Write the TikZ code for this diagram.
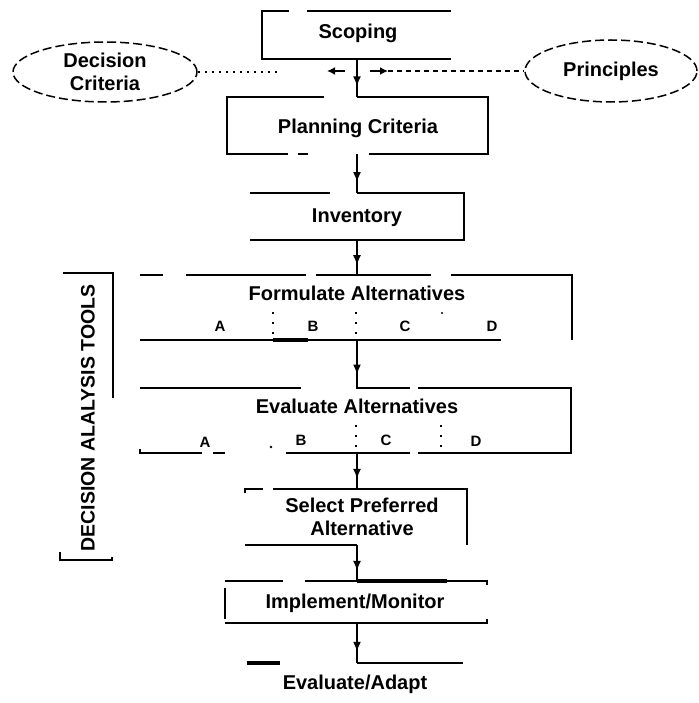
\documentclass[tikz,border=0pt]{standalone}
\usepackage{fontspec}
\setmainfont{Liberation Sans}
\usetikzlibrary{shapes.geometric,arrows.meta,decorations.markings}
\begin{document}
\begin{tikzpicture}[x=1pt,y=-1pt,
  ln/.style={line width=1.8pt},
  heavy/.style={line width=3.2pt},
  lbl/.style={font=\bfseries\fontsize{20}{23}\selectfont, inner sep=0pt, align=center},
  sml/.style={font=\bfseries\fontsize{15}{17}\selectfont, inner sep=0pt},
  boxn/.style={rectangle, inner sep=0pt, outer sep=0pt},
  ell/.style={ellipse, draw, line width=1.5pt, dash pattern=on 9pt off 4pt, inner sep=0pt, align=center, font=\bfseries\fontsize{20}{23}\selectfont},
  dotsep/.style={line width=2.2pt, dash pattern=on 2pt off 8pt},
  flow/.style={ln, postaction={decorate}, decoration={markings, mark=at position 0.72 with {\arrow{Latex[length=10pt,width=8pt]}}}},
  tip/.style={ln, -{Latex[length=8pt,width=8pt]}}
]
\useasboundingbox (0,0) rectangle (698,703);
\fill[white] (0,0) rectangle (698,703);

% invisible box nodes (used as connector ends)
\node[boxn, minimum width=189pt, minimum height=48pt] (scoping) at (357,35) {};
\node[boxn, minimum width=261pt, minimum height=57pt] (planning) at (357,125.5) {};
\node[boxn, minimum width=214pt, minimum height=47pt] (inventory) at (357,216.5) {};
\node[boxn, minimum width=432pt, minimum height=65pt] (formulate) at (357,307.5) {};
\node[boxn, minimum width=431pt, minimum height=65pt] (evaluate) at (357,420.5) {};
\node[boxn, minimum width=222pt, minimum height=56pt] (select) at (357,517) {};
\node[boxn, minimum width=262pt, minimum height=42pt] (implement) at (357,602) {};
\coordinate (adapt) at (357,663);

% texts
\node[lbl] (t-scoping) at (358,33) {Scoping};
\node[lbl] (t-planning) at (358,128) {Planning Criteria};
\node[lbl] (t-inventory) at (357,218) {Inventory};
\node[lbl] (t-formulate) at (357,293) {Formulate Alternatives};
\node[lbl] (t-evaluate) at (357,406) {Evaluate Alternatives};
\node[lbl] (t-select) at (362,517) {Select Preferred\\Alternative};
\node[lbl] (t-implement) at (355,603) {Implement/Monitor};
\node[lbl] (t-adapt) at (355,684) {Evaluate/Adapt};
\node[lbl, rotate=90, font=\bfseries\fontsize{19.5}{22}\selectfont] (t-tools) at (88,418) {DECISION ALALYSIS TOOLS};

% ellipses
\node[ell, minimum width=184pt, minimum height=60pt] (dc) at (105,72) {Decision\\Criteria};
\node[ell, minimum width=172pt, minimum height=62pt] (pr) at (611,71) {Principles};

% side links
\coordinate (ldot) at (281,72);
\coordinate (la1) at (345,71);
\coordinate (la2) at (327,71);
\coordinate (ra1) at (370,71);
\coordinate (ra2) at (388,71);
\draw[line width=1.6pt, dash pattern=on 2.5pt off 4.5pt] (dc.east) -- (ldot);
\draw[tip] (la1) -- (la2);
\draw[tip] (ra1) -- (ra2);
\draw[line width=1.6pt, dash pattern=on 5pt off 4pt] (ra2) -- (pr.west);

% frames
% Scoping
\draw[ln] (289,11) -- (262,11) -- (262,59) -- (451,59);
\draw[ln] (307,11) -- (451,11);
% Planning Criteria
\draw[ln] (324,97) -- (227,97) -- (227,154) -- (288,154);
\draw[ln] (298,154) -- (308,154);
\draw[ln] (369,154) -- (488,154) -- (488,97) -- (357,97);
% Inventory
\draw[ln] (250,193) -- (330,193);
\draw[ln] (357,193) -- (464,193) -- (464,240) -- (250,240);
% Formulate Alternatives
\draw[ln] (140,275) -- (163,275);
\draw[ln] (186,275) -- (306,275);
\draw[ln] (316,275) -- (431,275);
\draw[ln] (451,275) -- (572,275) -- (572,340);
\draw[ln] (140,340) -- (501,340);
\draw[heavy] (273,340) -- (308,340);
\draw[dotsep] (273,312) -- (273,334);
\draw[dotsep] (356,312) -- (356,334);
\fill (442,313) circle (1.2pt);
\node[sml] (fa) at (220,326) {A};
\node[sml] (fb) at (313,326) {B};
\node[sml] (fc) at (405,326) {C};
\node[sml] (fd) at (492,326) {D};
% Evaluate Alternatives
\draw[ln] (140,388) -- (301,388);
\draw[ln] (356,388) -- (410,388);
\draw[ln] (418,388) -- (571,388) -- (571,453) -- (418,453);
\draw[ln] (410,453) -- (286,453);
\draw[ln] (225,453) -- (213,453);
\draw[ln] (140,449) -- (140,453) -- (202,453);
\fill (271,447) circle (1.3pt);
\draw[dotsep] (356,425) -- (356,447);
\draw[dotsep] (441,425) -- (441,447);
\node[sml] (ea) at (205,442) {A};
\node[sml] (eb) at (301,440) {B};
\node[sml] (ec) at (386,440) {C};
\node[sml] (ed) at (476,441) {D};
% Select Preferred Alternative
\draw[ln] (245,493) -- (245,489) -- (263,489);
\draw[ln] (273,489) -- (467,489) -- (467,545);
\draw[ln] (245,545) -- (357,545);
% Implement/Monitor
\draw[ln] (225,581) -- (283,581);
\draw[ln] (305,581) -- (487,581) -- (487,585);
\draw[heavy] (357,581) -- (447,581);
\draw[ln] (225,588) -- (225,619);
\draw[ln] (225,623) -- (487,623) -- (487,619);
% Evaluate/Adapt
\draw[ln] (adapt) -- (463,663);
\draw[heavy] (247,663) -- (280,663);

% bracket
\draw[ln] (63,273) -- (113,273) -- (113,398);
\draw[ln] (60,552) -- (60,560) -- (112,560) -- (112,557);

% flow connectors
\draw[flow] (scoping.south) -- (planning.north);
\draw[flow] (planning.south) -- (inventory.north);
\draw[flow] (inventory.south) -- (formulate.north);
\draw[flow] (formulate.south) -- (evaluate.north);
\draw[flow] (evaluate.south) -- (select.north);
\draw[flow] (select.south) -- (implement.north);
\draw[flow] (implement.south) -- (adapt);
\end{tikzpicture}
\end{document}
